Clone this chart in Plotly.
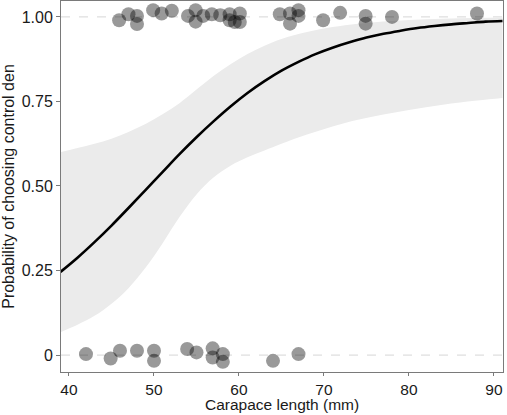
import plotly.graph_objects as go

# Fitted curve
curve_x = [39, 41, 43, 45, 47, 49, 51, 53, 55, 57, 59, 61, 63, 65, 67, 69, 71, 73, 75, 77, 79, 81, 83, 85, 87, 89, 91]
curve_y = [0.246, 0.288, 0.334, 0.383, 0.435, 0.488, 0.541, 0.594, 0.644, 0.691, 0.735, 0.775, 0.810, 0.841,
           0.867, 0.890, 0.909, 0.925, 0.939, 0.950, 0.959, 0.967, 0.973, 0.978, 0.982, 0.986, 0.988]

# Confidence band
band_x = [39, 41, 43, 45, 47, 49, 51, 53, 55, 57, 59, 61, 63, 65, 68, 71, 74, 78, 82, 86, 91]
band_lo = [0.068, 0.090, 0.116, 0.152, 0.198, 0.258, 0.330, 0.408, 0.475, 0.525, 0.560, 0.585, 0.605, 0.625,
           0.652, 0.676, 0.696, 0.716, 0.733, 0.747, 0.760]
band_hi = [0.600, 0.612, 0.625, 0.640, 0.660, 0.683, 0.712, 0.745, 0.785, 0.825, 0.860, 0.890, 0.915, 0.935,
           0.955, 0.970, 0.980, 0.988, 0.993, 0.996, 0.998]

# Observations (jittered around 0 and 1)
obs_x = [45.9, 47.0, 48.0, 48.0, 49.9, 50.9, 52.1, 54.0, 54.9, 54.9, 55.8, 56.8, 57.8, 58.9, 58.9, 59.5,
         60.1, 60.1, 64.8, 66.0, 66.0, 67.0, 67.0, 69.9, 71.9, 74.9, 74.9, 78.0, 88.0,
         42.0, 44.9, 46.0, 48.0, 50.0, 50.0, 53.9, 55.0, 56.9, 56.9, 58.1, 58.1, 64.0, 67.0]
obs_y = [0.990, 1.008, 1.003, 0.979, 1.020, 1.010, 1.018, 1.003, 1.020, 0.986, 1.003, 1.008, 1.005, 1.008, 0.990, 0.985,
         1.010, 0.985, 1.008, 1.010, 0.980, 1.020, 1.003, 0.990, 1.012, 1.003, 0.980, 1.000, 1.010,
         0.003, -0.010, 0.013, 0.013, 0.013, -0.017, 0.018, 0.008, 0.020, -0.007, 0.003, -0.020, -0.017, 0.003]

ref_lines = [0, 1]
y_ticks = [0, 0.25, 0.5, 0.75, 1.0]
y_labels = ["0", "0.25", "0.50", "0.75", "1.00"]
x_ticks = [40, 50, 60, 70, 80, 90]

FONT = "Liberation Sans, Arial"
FS = 16
FSX = 15.5
TXT = "#1a1a1a"

fig = go.Figure()
fig.add_trace(go.Scatter(x=band_x, y=band_lo, mode="lines", line=dict(width=0, shape="spline"),
                         hoverinfo="skip", showlegend=False))
fig.add_trace(go.Scatter(x=band_x, y=band_hi, mode="lines", line=dict(width=0, shape="spline"), fill="tonexty",
                         fillcolor="#ebebeb", hoverinfo="skip", showlegend=False))
fig.add_trace(go.Scatter(x=curve_x, y=curve_y, mode="lines", line=dict(color="black", width=2.6, shape="spline"),
                         showlegend=False))
fig.add_trace(go.Scatter(x=obs_x, y=obs_y, mode="markers",
                         marker=dict(size=14, color="rgba(0,0,0,0.4)", line=dict(width=0)), showlegend=False))

for r in ref_lines:
    fig.add_hline(y=r, line=dict(color="#d6d6d6", width=1, dash="dash"), layer="below")

axis_common = dict(showgrid=False, zeroline=False, showline=True, linecolor="#7a7a7a", linewidth=1,
                   mirror=True, ticks="outside", tickcolor="#7a7a7a")

fig.update_xaxes(range=[39.06, 91.06], tickvals=x_ticks, ticklen=3, **axis_common,
                 tickfont=dict(family=FONT, size=FSX, color=TXT))
fig.update_yaxes(range=[-0.05, 1.047], tickvals=y_ticks, ticktext=y_labels, ticklen=4, **axis_common,
                 tickfont=dict(family=FONT, size=FS, color=TXT),
                 title=dict(text="Probability of choosing control den", standoff=6,
                            font=dict(family=FONT, size=FS, color=TXT)))

fig.add_annotation(text="Carapace length (mm)", xref="paper", yref="paper", x=0.5, y=0,
                   xanchor="center", yanchor="top", yshift=-22, showarrow=False,
                   font=dict(family=FONT, size=FSX, color=TXT))

fig.update_layout(width=507, height=415, margin=dict(l=61, r=4, t=1, b=43, autoexpand=False),
                  plot_bgcolor="white", paper_bgcolor="white")

fig.write_html("out.html")
